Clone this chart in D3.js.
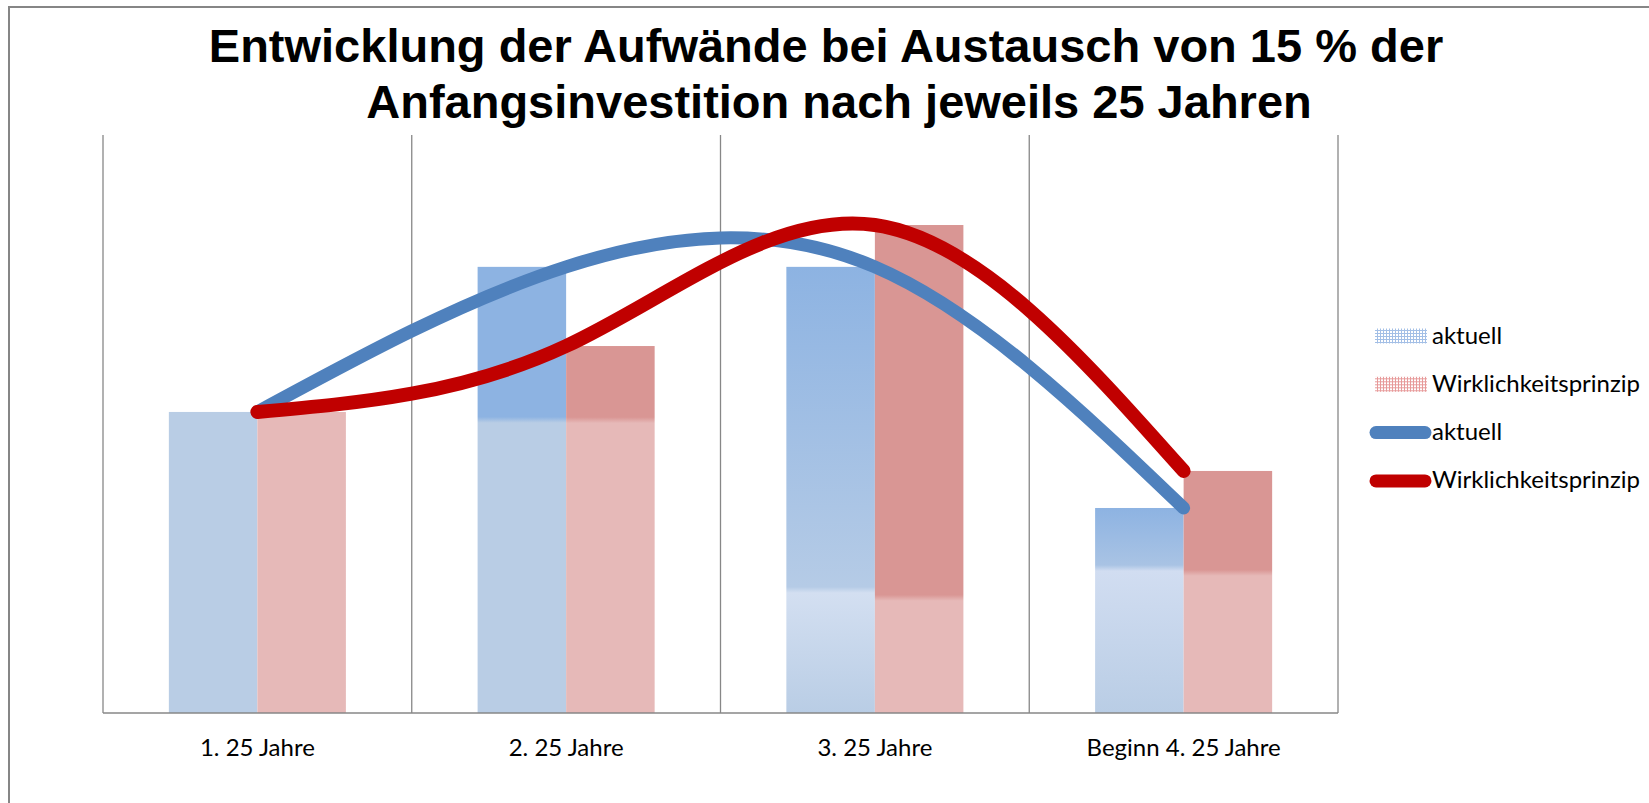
<!DOCTYPE html>
<html>
<head>
<meta charset="utf-8">
<script src="https://cdn.jsdelivr.net/npm/d3@7"></script>
<style>
  body { margin: 0; background: #fff; }
  svg { display: block; }
</style>
</head>
<body>
<script>
const categories = ["1. 25 Jahre", "2. 25 Jahre", "3. 25 Jahre", "Beginn 4. 25 Jahre"];
const aktuell = [100, 148.2, 148.2, 68.1];
const wirklichkeit = [100, 121.9, 162.1, 80.4];
const seriesNames = ["aktuell", "Wirklichkeitsprinzip"];
const titleLines = [
  "Entwicklung der Aufwände bei Austausch von 15 % der",
  "Anfangsinvestition nach jeweils 25 Jahren"
];

// look of the bars: part of each bar (from the bottom) in the pale tone,
// and the colours just above / below that edge
const paleShare = [[1, 0.657, 0.276, 0.707], [1, 0.798, 0.236, 0.579]];
const upperEnd = [["#b9cde5", "#8db3e2", "#b5cbe6", "#a9c3e4"], ["#e6b9b8", "#d99694", "#d99694", "#d99694"]];
const lowerStart = [["#b9cde5", "#b9cde5", "#d3dff1", "#d1ddf1"], ["#e6b9b8", "#e6b9b8", "#e6b9b8", "#e6b9b8"]];
const topColor = ["#8db3e2", "#d99694"];
const baseColor = ["#b9cde5", "#e6b9b8"];
const lineColor = ["#4f81bd", "#c00000"];

const width = 1649;
const height = 803;
const plot = { left: 103, right: 1338, top: 135, bottom: 713 };

const svg = d3.select("body").append("svg")
  .attr("width", width)
  .attr("height", height);

const defs = svg.append("defs");

// outer chart frame (only left and top edges are inside the page)
svg.append("rect")
  .attr("x", 9).attr("y", 7)
  .attr("width", width + 20).attr("height", height + 20)
  .attr("fill", "none")
  .attr("stroke", "#868686")
  .attr("stroke-width", 2);

// title
svg.append("g")
  .selectAll("text")
  .data(titleLines)
  .join("text")
  .attr("x", (d, i) => (i === 0 ? 826 : 839))
  .attr("y", (d, i) => 62 + i * 56)
  .attr("text-anchor", "middle")
  .style("font-family", "'Liberation Sans', Arial, sans-serif")
  .style("font-weight", "bold")
  .style("font-size", "47px")
  .text(d => d);

const x = d3.scaleBand()
  .domain(categories)
  .range([plot.left, plot.right]);

const x1 = d3.scaleBand()
  .domain(seriesNames)
  .range([0, x.bandwidth()])
  .paddingOuter(0.744);

const y = d3.scaleLinear()
  .domain([0, 192])
  .range([plot.bottom, plot.top]);

// vertical gridlines at the category borders
const borders = categories.map(c => x(c)).concat([x.range()[1]]);
svg.append("g")
  .selectAll("line")
  .data(borders)
  .join("line")
  .attr("x1", d => d).attr("x2", d => d)
  .attr("y1", plot.top).attr("y2", plot.bottom)
  .attr("stroke", "#878787")
  .attr("stroke-width", 1.3);

// bars
const seriesData = [aktuell, wirklichkeit];
const bars = [];
seriesData.forEach((vals, s) => {
  vals.forEach((v, i) => bars.push({ s, i, v, cat: categories[i], name: seriesNames[s] }));
});

bars.forEach(b => {
  const h = y(0) - y(b.v);
  const split = 1 - paleShare[b.s][b.i];
  const soft = 3 / h;
  const g = defs.append("linearGradient")
    .attr("id", `bar-${b.s}-${b.i}`)
    .attr("x1", 0).attr("y1", 0).attr("x2", 0).attr("y2", 1);
  if (split <= 0) {
    g.append("stop").attr("offset", 0).attr("stop-color", baseColor[b.s]);
    g.append("stop").attr("offset", 1).attr("stop-color", baseColor[b.s]);
  } else {
    g.append("stop").attr("offset", 0).attr("stop-color", topColor[b.s]);
    g.append("stop").attr("offset", Math.max(0, split - soft)).attr("stop-color", upperEnd[b.s][b.i]);
    g.append("stop").attr("offset", Math.min(1, split + soft)).attr("stop-color", lowerStart[b.s][b.i]);
    g.append("stop").attr("offset", 1).attr("stop-color", baseColor[b.s]);
  }
});

svg.append("g")
  .selectAll("rect")
  .data(bars)
  .join("rect")
  .attr("x", d => x(d.cat) + x1(d.name))
  .attr("y", d => y(d.v))
  .attr("width", x1.bandwidth())
  .attr("height", d => y(0) - y(d.v))
  .attr("fill", d => `url(#bar-${d.s}-${d.i})`);

// category axis line
svg.append("line")
  .attr("x1", plot.left).attr("x2", plot.right)
  .attr("y1", plot.bottom).attr("y2", plot.bottom)
  .attr("stroke", "#878787")
  .attr("stroke-width", 1.5);

svg.append("g")
  .selectAll("text")
  .data(categories)
  .join("text")
  .attr("x", d => x(d) + x.bandwidth() / 2)
  .attr("y", 756)
  .attr("text-anchor", "middle")
  .style("font-family", "Lato, 'Open Sans', sans-serif")
  .style("font-size", "24px")
  .style("fill", "#000")
  .text(d => d);

// smoothed lines
const line = d3.line()
  .x((d, i) => x(categories[i]) + x.bandwidth() / 2)
  .y(d => y(d))
  .curve(d3.curveNatural);

svg.append("g")
  .selectAll("path")
  .data(seriesData)
  .join("path")
  .attr("d", d => line(d))
  .attr("fill", "none")
  .attr("stroke", (d, s) => lineColor[s])
  .attr("stroke-width", (d, s) => (s === 0 ? 13 : 14))
  .attr("stroke-linecap", "round")
  .attr("stroke-linejoin", "round");

// legend
const patternColors = [["#ffffff", "#a3bfe6"], ["#ffffff", "#e79a9a"]];
patternColors.forEach((pc, s) => {
  const p = defs.append("pattern")
    .attr("id", `pat-${s}`)
    .attr("width", 3).attr("height", 3)
    .attr("patternUnits", "userSpaceOnUse");
  p.append("rect").attr("width", 3).attr("height", 3).attr("fill", pc[0]);
  p.append("rect").attr("width", 3).attr("height", 1).attr("fill", pc[1]);
  p.append("rect").attr("width", 1).attr("height", 3).attr("fill", pc[1]);
});

const legendItems = [
  { label: seriesNames[0], kind: "bar", s: 0 },
  { label: seriesNames[1], kind: "bar", s: 1 },
  { label: seriesNames[0], kind: "line", s: 0 },
  { label: seriesNames[1], kind: "line", s: 1 }
];

const legend = svg.append("g")
  .selectAll("g")
  .data(legendItems)
  .join("g")
  .attr("transform", (d, i) => `translate(0, ${336 + i * 48.3})`);

legend.filter(d => d.kind === "bar")
  .append("rect")
  .attr("x", 1375).attr("y", -7.5)
  .attr("width", 52).attr("height", 15)
  .attr("fill", d => `url(#pat-${d.s})`);

legend.filter(d => d.kind === "line")
  .append("line")
  .attr("x1", 1376).attr("x2", 1425)
  .attr("y1", 0).attr("y2", 0)
  .attr("stroke", d => lineColor[d.s])
  .attr("stroke-width", 13)
  .attr("stroke-linecap", "round");

legend.append("text")
  .attr("x", 1432)
  .attr("y", 7.5)
  .style("font-family", "Lato, 'Open Sans', sans-serif")
  .style("font-size", "24px")
  .style("fill", "#000")
  .text(d => d.label);
</script>
</body>
</html>
